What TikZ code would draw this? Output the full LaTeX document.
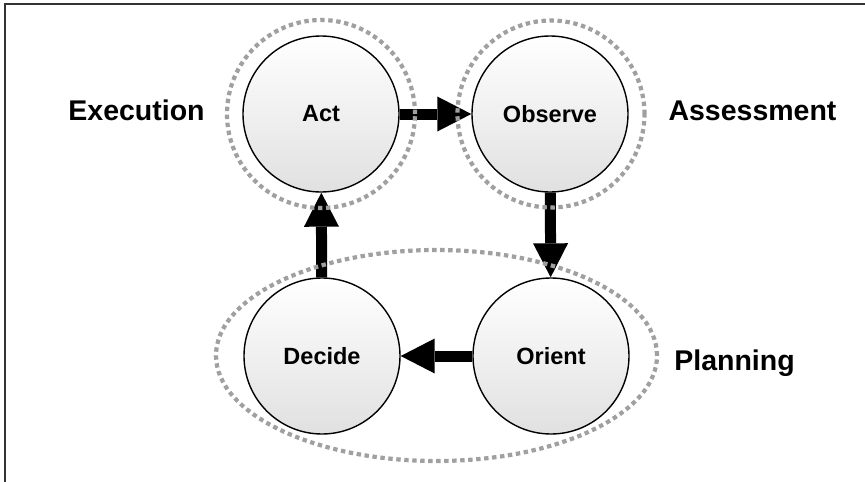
\documentclass[tikz,border=0pt]{standalone}
\usepackage{fontspec}
\setmainfont{Liberation Sans}
\usetikzlibrary{arrows.meta,shapes.geometric}
\definecolor{ringgray}{HTML}{A0A0A0}
\definecolor{framegray}{HTML}{333333}
\tikzset{
  phase/.style={circle, draw=black, line width=1.4pt, minimum size=156pt, inner sep=0pt,
    top color=white, bottom color=white!88!black,
    font=\fontsize{23.5}{26}\selectfont\bfseries},
  ring/.style={draw=ringgray, line width=4.2pt, dash pattern=on 4.4pt off 3.6pt, fill=none},
  bigarrow/.style={line width=11pt, -{Triangle[length=34pt,width=35pt,line width=0pt]}},
  grouplabel/.style={anchor=base, font=\fontsize{28.5}{31}\selectfont\bfseries, inner sep=0pt},
}
\begin{document}
\begin{tikzpicture}[x=1pt,y=-1pt]
\useasboundingbox (0,0) rectangle (865,482);
\draw[framegray, line width=1.5pt] (5,482) -- (5,4) -- (865,4);

\node[phase] (act) at (321,114) {Act};
\node[phase] (obs) at (550,114) {Observe};
\node[phase] (ori) at (551,356) {Orient};
\node[phase] (dec) at (322,356) {Decide};

\draw[bigarrow] (act) -- (obs);
\draw[bigarrow] (obs) -- (ori);
\draw[bigarrow] (ori) -- (dec);
\draw[bigarrow] (dec) -- (act);

\node[ring, circle, minimum size=188pt] (actring) at (321,114) {};
\node[ring, circle, minimum size=187pt] (obsring) at (551,114) {};
\node[ring, ellipse, minimum width=441pt, minimum height=211pt] (planring) at (436.5,355.5) {};

\node[grouplabel] (exec) at (136.5,120) {Execution};
\node[grouplabel] (assess) at (752.5,120) {Assessment};
\node[grouplabel] (plan) at (734.5,370) {Planning};
\end{tikzpicture}
\end{document}
